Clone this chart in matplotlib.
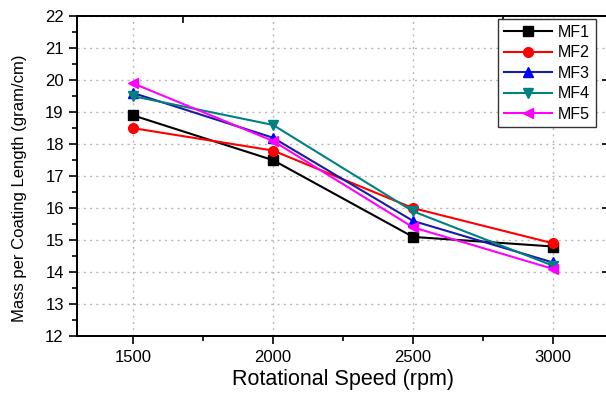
import matplotlib
matplotlib.use('Agg')
import matplotlib.pyplot as plt
from matplotlib.ticker import MultipleLocator

plt.rcParams['font.family'] = ['Liberation Sans', 'DejaVu Sans']

# datos
velocidad = [1500, 2000, 2500, 3000]
mf1 = [18.9, 17.5, 15.1, 14.8]
mf2 = [18.5, 17.8, 16.0, 14.9]
mf3 = [19.6, 18.2, 15.6, 14.3]
mf4 = [19.5, 18.6, 15.9, 14.2]
mf5 = [19.9, 18.1, 15.4, 14.1]
nombres = ['MF1', 'MF2', 'MF3', 'MF4', 'MF5']

# marcas del eje superior / derecho (como en el original)
ticks_arriba = [1680, 2820]
ticks_derecha = [14, 16, 18, 20]

series = [mf1, mf2, mf3, mf4, mf5]
colores = ['black', 'red', '#1a1aa8', '#008080', '#ff00ff']
colores_marca = ['black', 'red', 'blue', '#008080', '#ff00ff']
marcas = ['s', 'o', '^', 'v', '<']

fig = plt.figure(figsize=(6.06, 3.94), dpi=100)
ax = fig.add_axes([0.127, 0.147, 0.878, 0.812])

lineas = []
for s, c, cm, m, n in zip(series, colores, colores_marca, marcas, nombres):
    l, = ax.plot(velocidad, s, color=c, marker=m, markersize=7, markerfacecolor=cm,
                 markeredgecolor=cm, linewidth=1.5, label=n, zorder=3)
    lineas.append(l)

ax.set_xlim(1300, 3200)
ax.set_ylim(12, 22)
ax.set_xticks(velocidad)
ax.xaxis.set_minor_locator(MultipleLocator(250))
ax.yaxis.set_major_locator(MultipleLocator(1))
ax.yaxis.set_minor_locator(MultipleLocator(0.5))

ax.grid(True, which='major', linestyle=(0, (1.5, 3)), color='#b8b8b8', linewidth=1)
ax.tick_params(axis='both', which='both', direction='out', labelsize=12, width=1.2)
ax.tick_params(axis='both', which='major', length=6)
ax.tick_params(axis='both', which='minor', length=3.5)
ax.tick_params(axis='x', which='major', pad=4)

# eje superior y derecho con marcas hacia dentro
tx = ax.twiny()
tx.set_xlim(ax.get_xlim())
tx.set_xticks(ticks_arriba)
tx.tick_params(direction='in', length=5, width=1.2, labeltop=False)
ty = ax.twinx()
ty.set_ylim(ax.get_ylim())
ty.set_yticks(ticks_derecha)
ty.tick_params(direction='in', length=5, width=1.2, labelright=False)

for a in (ax, tx, ty):
    for sp in a.spines.values():
        sp.set_linewidth(1.2)

ax.set_xlabel('Rotational Speed (rpm)', fontsize=15.5, labelpad=3)
ax.set_ylabel('Mass per Coating Length (gram/cm)', fontsize=12)
ax.yaxis.set_label_coords(-0.094, 0.4625)

leg = ty.legend(lineas, nombres, loc='upper left', bbox_to_anchor=(0.822, 0.952),
                bbox_transform=fig.transFigure, fontsize=11.5,
                frameon=True, fancybox=False, edgecolor='#333333', framealpha=1,
                handlelength=3.0, labelspacing=0.35, borderpad=0.35,
                handletextpad=0.4, borderaxespad=0)
leg.get_frame().set_linewidth(1)

fig.savefig('out.png', dpi=100)
